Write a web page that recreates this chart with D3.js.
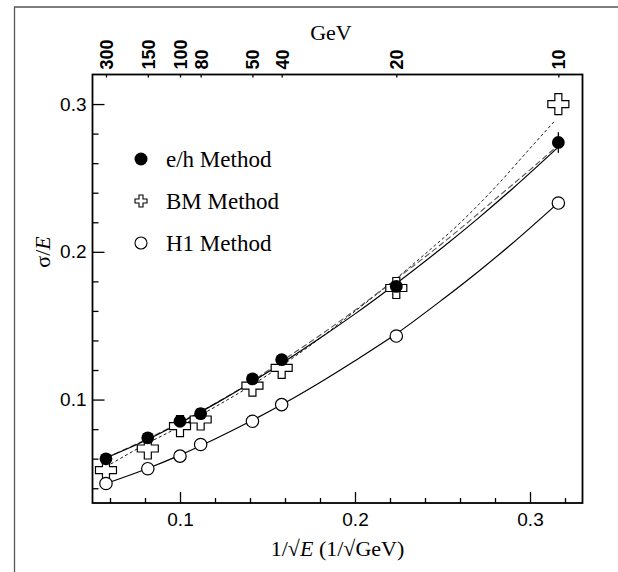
<!DOCTYPE html>
<html><head><meta charset="utf-8">
<script src="https://cdn.jsdelivr.net/npm/d3@7"></script>
<style>
html,body{margin:0;padding:0;background:#fff;}
svg{display:block;}
</style>
</head><body>
<svg id="chart" width="618" height="572"></svg>
<script>
// ---- data ----
const energies = [300, 150, 100, 80, 50, 40, 20, 10];           // GeV (top axis)
const invSqrtE = [0.0577, 0.0816, 0.1, 0.1118, 0.1414, 0.1581, 0.2236, 0.3162];
const ehValues = [0.0599, 0.0741, 0.0853, 0.0905, 0.1140, 0.1270, 0.1766, 0.274];
const bmValues = [0.0522, 0.0669, 0.0820, 0.0865, 0.1095, 0.1214, 0.1755, 0.300];
const h1Values = [0.0432, 0.0532, 0.0617, 0.0696, 0.0853, 0.0966, 0.1430, 0.233];
const ehErr10 = 0.007;
// fit curves
const ehFitX = [0.0577, 0.08, 0.1, 0.12, 0.14, 0.16, 0.18, 0.2, 0.2236, 0.25, 0.27, 0.29, 0.316];
const ehFitY = [0.0605, 0.0721, 0.0841, 0.0971, 0.1111, 0.1259, 0.1416, 0.158, 0.1786, 0.2029, 0.2223, 0.2427, 0.2707];
const ehFit2X = [0.0577, 0.1, 0.14, 0.16, 0.18, 0.2, 0.22, 0.24, 0.26, 0.28, 0.3, 0.316];
const ehFit2Y = [0.0605, 0.0845, 0.1115, 0.1275, 0.1435, 0.1605, 0.1785, 0.1965, 0.2155, 0.2355, 0.2555, 0.272];
const bmFitX = [0.0577, 0.08, 0.1, 0.12, 0.14, 0.16, 0.18, 0.2, 0.22, 0.24, 0.26, 0.28, 0.3, 0.3137];
const bmFitY = [0.0545, 0.0695, 0.0818, 0.095, 0.109, 0.1245, 0.1415, 0.1598, 0.1785, 0.1985, 0.2195, 0.2435, 0.270, 0.288];
const h1FitX = [0.0577, 0.08, 0.1, 0.12, 0.14, 0.16, 0.18, 0.2, 0.2236, 0.25, 0.27, 0.29, 0.316];
const h1FitY = [0.0432, 0.0527, 0.0624, 0.0733, 0.0851, 0.0978, 0.1116, 0.1263, 0.1445, 0.1677, 0.1862, 0.2058, 0.233];
const xMajor = [0.1, 0.2, 0.3];
const xMinor = [0.06, 0.08, 0.12, 0.14, 0.16, 0.18, 0.22, 0.24, 0.26, 0.28, 0.32];
const yMajor = [0.1, 0.2, 0.3];
const yMinor = [0.04, 0.06, 0.08, 0.12, 0.14, 0.16, 0.18, 0.22, 0.24, 0.26, 0.28];
const legendLabels = ["e/h Method", "BM Method", "H1 Method"];

// ---- layout ----
const svg = d3.select("#chart");
const L = 92.5, R = 582.5, T = 74.5, B = 503;
const x = d3.scaleLinear().domain([0.05, 0.33]).range([L, R]);
const y = d3.scaleLinear().domain([0.03, 0.32]).range([B, T]);

// outer page frame
svg.append("path").attr("d", `M14.5,572 L14.5,7 L618,7`).attr("fill", "none")
  .attr("stroke", "#555").attr("stroke-width", 1.3);

// axes
const fontSans = "Liberation Sans, Arial, Helvetica, sans-serif";
const fontSerif = "Liberation Serif, Times New Roman, serif";

const gx = svg.append("g").attr("transform", `translate(0,${B})`)
  .call(d3.axisBottom(x).tickValues(xMajor).tickSizeInner(-11).tickSizeOuter(0).tickPadding(10).tickFormat(d3.format(".1f")));
const gxm = svg.append("g").attr("transform", `translate(0,${B})`)
  .call(d3.axisBottom(x).tickValues(xMinor).tickSizeInner(-5).tickSizeOuter(0).tickFormat(""));
const gy = svg.append("g").attr("transform", `translate(${L},0)`)
  .call(d3.axisLeft(y).tickValues(yMajor).tickSizeInner(-12).tickSizeOuter(0).tickPadding(6).tickFormat(d3.format(".1f")));
const gym = svg.append("g").attr("transform", `translate(${L},0)`)
  .call(d3.axisLeft(y).tickValues(yMinor).tickSizeInner(-6).tickSizeOuter(0).tickFormat(""));
const xTop = d3.scaleLinear().domain([0.05, 0.33]).range([L, R]);
const gt = svg.append("g").attr("transform", `translate(0,${T})`)
  .call(d3.axisTop(xTop).tickValues(invSqrtE).tickSizeInner(-3).tickSizeOuter(0).tickPadding(6)
    .tickFormat((d, i) => energies[i]));

[gx, gxm, gy, gym, gt].forEach(g => {
  g.select(".domain").remove();
  g.selectAll("line").attr("stroke", "#000").attr("stroke-width", 1.3);
  g.selectAll("text").attr("font-family", fontSans).attr("fill", "#000");
});
gx.selectAll("text").attr("font-size", 19);
gy.selectAll("text").attr("font-size", 19);
gt.selectAll("text").attr("font-size", 18).attr("font-weight", "bold")
  .attr("text-anchor", "start").attr("dy", "0.36em").attr("y", 0)
  .attr("transform", "translate(0,-5) rotate(-90)");

// plot frame
svg.append("rect").attr("x", L).attr("y", T).attr("width", R - L).attr("height", B - T)
  .attr("fill", "none").attr("stroke", "#000").attr("stroke-width", 1.8);

// clip
svg.append("clipPath").attr("id", "clip").append("rect")
  .attr("x", L).attr("y", T).attr("width", R - L).attr("height", B - T);
const plot = svg.append("g").attr("clip-path", "url(#clip)");

const line = d3.line().x(d => x(d[0])).y(d => y(d[1])).curve(d3.curveMonotoneX);
const zip = (a, b) => a.map((v, i) => [v, b[i]]);

plot.append("path").datum(zip(bmFitX, bmFitY)).attr("d", line).attr("fill", "none")
  .attr("stroke", "#000").attr("stroke-width", 0.9).attr("stroke-dasharray", "3,2.5");
plot.append("path").datum(zip(ehFit2X, ehFit2Y)).attr("d", line).attr("fill", "none")
  .attr("stroke", "#555").attr("stroke-width", 1.1).attr("stroke-dasharray", "6,3");
plot.append("path").datum(zip(ehFitX, ehFitY)).attr("d", line).attr("fill", "none")
  .attr("stroke", "#000").attr("stroke-width", 1.2);
plot.append("path").datum(zip(h1FitX, h1FitY)).attr("d", line).attr("fill", "none")
  .attr("stroke", "#000").attr("stroke-width", 1.2);

// cross marker path
function crossPath(s) {
  const a = s / 2, b = s / 6;
  return `M${-b},${-a}H${b}V${-b}H${a}V${b}H${b}V${a}H${-b}V${b}H${-a}V${-b}H${-b}Z`;
}

// BM crosses
plot.selectAll(".bm").data(zip(invSqrtE, bmValues)).enter().append("path")
  .attr("transform", d => `translate(${x(d[0])},${y(d[1])})`)
  .attr("d", crossPath(21)).attr("fill", "#fff").attr("stroke", "#000").attr("stroke-width", 1.2);
// H1 open circles
plot.selectAll(".h1").data(zip(invSqrtE, h1Values)).enter().append("circle")
  .attr("cx", d => x(d[0])).attr("cy", d => y(d[1])).attr("r", 6.2)
  .attr("fill", "#fff").attr("stroke", "#000").attr("stroke-width", 1.2);
// e/h error bar at 10 GeV
const last = invSqrtE.length - 1;
plot.append("line").attr("x1", x(invSqrtE[last])).attr("x2", x(invSqrtE[last]))
  .attr("y1", y(ehValues[last] - ehErr10)).attr("y2", y(ehValues[last] + ehErr10))
  .attr("stroke", "#000").attr("stroke-width", 1.3);
// e/h filled circles
plot.selectAll(".eh").data(zip(invSqrtE, ehValues)).enter().append("circle")
  .attr("cx", d => x(d[0])).attr("cy", d => y(d[1])).attr("r", 6.4).attr("fill", "#000");

// legend
const legX = 141, legY0 = 159, legDY = 42;
svg.append("circle").attr("cx", legX).attr("cy", legY0).attr("r", 6.5).attr("fill", "#000");
svg.append("path").attr("transform", `translate(${legX},${legY0 + legDY})`).attr("d", crossPath(12))
  .attr("fill", "#fff").attr("stroke", "#000").attr("stroke-width", 1.1);
svg.append("circle").attr("cx", legX).attr("cy", legY0 + 2 * legDY).attr("r", 6)
  .attr("fill", "#fff").attr("stroke", "#000").attr("stroke-width", 1.1);
legendLabels.forEach((t, i) => {
  svg.append("text").attr("x", 166).attr("y", legY0 + i * legDY + 7.5)
    .attr("font-family", fontSerif).attr("font-size", 23).text(t);
});

// axis titles
svg.append("text").attr("x", 331).attr("y", 40).attr("text-anchor", "middle")
  .attr("font-family", fontSerif).attr("font-size", 22).text("GeV");
const xt = svg.append("text").attr("x", (L + R) / 2).attr("y", 556).attr("text-anchor", "middle")
  .attr("font-family", fontSerif).attr("font-size", 22);
xt.append("tspan").text("1/√");
xt.append("tspan").attr("font-style", "italic").text("E");
xt.append("tspan").text(" (1/√GeV)");
const yt = svg.append("text").attr("transform", `translate(50,${252}) rotate(-90)`)
  .attr("text-anchor", "middle").attr("font-family", fontSerif).attr("font-size", 22);
yt.append("tspan").text("σ/");
yt.append("tspan").attr("font-style", "italic").text("E");
</script>
</body></html>
